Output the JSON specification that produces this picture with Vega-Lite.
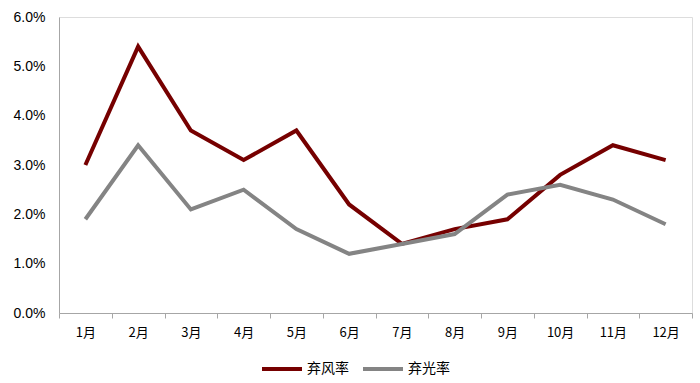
{
  "$schema": "https://vega.github.io/schema/vega-lite/v6.json",
  "width": 633,
  "height": 296,
  "autosize": {"type": "none"},
  "padding": {"left": 59, "top": 17, "right": 8, "bottom": 70},
  "background": "white",
  "data": {
    "values": [
      {"month": "1月", "series": "弃风率", "value": 0.030},
      {"month": "2月", "series": "弃风率", "value": 0.054},
      {"month": "3月", "series": "弃风率", "value": 0.037},
      {"month": "4月", "series": "弃风率", "value": 0.031},
      {"month": "5月", "series": "弃风率", "value": 0.037},
      {"month": "6月", "series": "弃风率", "value": 0.022},
      {"month": "7月", "series": "弃风率", "value": 0.014},
      {"month": "8月", "series": "弃风率", "value": 0.017},
      {"month": "9月", "series": "弃风率", "value": 0.019},
      {"month": "10月", "series": "弃风率", "value": 0.028},
      {"month": "11月", "series": "弃风率", "value": 0.034},
      {"month": "12月", "series": "弃风率", "value": 0.031},
      {"month": "1月", "series": "弃光率", "value": 0.019},
      {"month": "2月", "series": "弃光率", "value": 0.034},
      {"month": "3月", "series": "弃光率", "value": 0.021},
      {"month": "4月", "series": "弃光率", "value": 0.025},
      {"month": "5月", "series": "弃光率", "value": 0.017},
      {"month": "6月", "series": "弃光率", "value": 0.012},
      {"month": "7月", "series": "弃光率", "value": 0.014},
      {"month": "8月", "series": "弃光率", "value": 0.016},
      {"month": "9月", "series": "弃光率", "value": 0.024},
      {"month": "10月", "series": "弃光率", "value": 0.026},
      {"month": "11月", "series": "弃光率", "value": 0.023},
      {"month": "12月", "series": "弃光率", "value": 0.018}
    ]
  },
  "mark": {"type": "line", "strokeWidth": 4, "strokeJoin": "miter", "strokeCap": "butt"},
  "encoding": {
    "x": {
      "field": "month",
      "type": "ordinal",
      "sort": null,
      "bandPosition": 0.5,
      "scale": {"type": "band", "paddingInner": 0, "paddingOuter": 0},
      "axis": {
        "title": null,
        "labelAngle": 0,
        "tickBand": "extent",
        "domainColor": "#A6A6A6",
        "tickColor": "#A6A6A6",
        "tickSize": 5,
        "labelPadding": 8,
        "labelFont": "Noto Sans CJK SC",
        "labelFontSize": 13,
        "labelColor": "#000000",
        "labelOverlap": false,
        "grid": false
      }
    },
    "y": {
      "field": "value",
      "type": "quantitative",
      "scale": {"domain": [0, 0.06]},
      "axis": {
        "title": null,
        "format": ".1%",
        "values": [0, 0.01, 0.02, 0.03, 0.04, 0.05, 0.06],
        "labelOverlap": false,
        "grid": false,
        "ticks": false,
        "labelPadding": 14,
        "domainColor": "#A6A6A6",
        "labelFont": "Liberation Sans",
        "labelFontSize": 14,
        "labelColor": "#000000"
      }
    },
    "color": {
      "field": "series",
      "type": "nominal",
      "sort": ["弃风率", "弃光率"],
      "scale": {"domain": ["弃风率", "弃光率"], "range": ["#760000", "#848484"]},
      "legend": {
        "title": null,
        "orient": "none",
        "direction": "horizontal",
        "legendX": 201,
        "legendY": 330,
        "symbolType": "stroke",
        "symbolSize": 1600,
        "symbolStrokeWidth": 4,
        "labelFont": "Noto Sans CJK SC",
        "labelFontSize": 14,
        "labelColor": "#000000",
        "labelOffset": 3,
        "columnPadding": 6
      }
    }
  }
}
